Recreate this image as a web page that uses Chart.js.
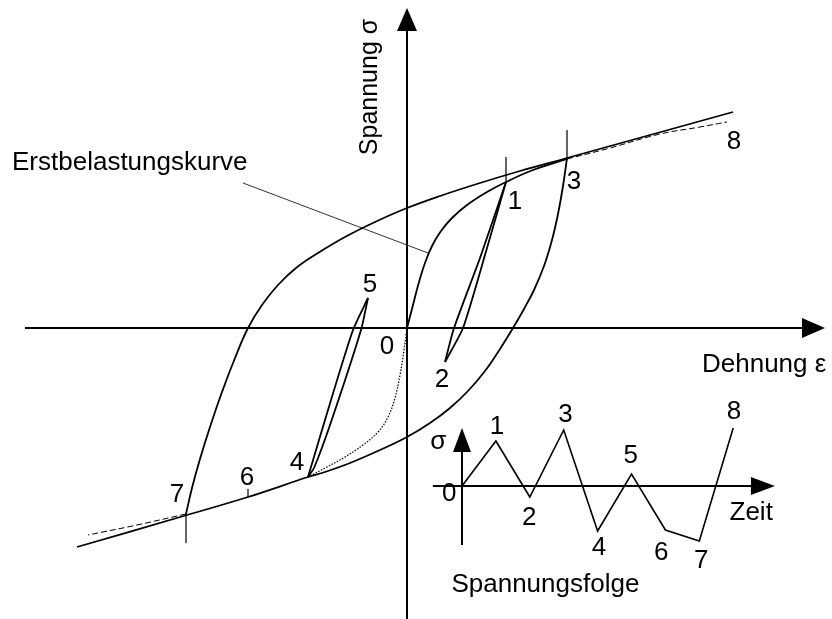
<!DOCTYPE html>
<html>
<head>
<meta charset="utf-8">
<title>Spannung-Dehnung</title>
<script src="https://cdn.jsdelivr.net/npm/chart.js@4.4.1/dist/chart.umd.min.js"></script>
<style>
    html, body { margin: 0; padding: 0; background: #fff; }
    #chart { display: block; }
</style>
</head>
<body>
<canvas id="chart" width="832" height="619"></canvas>
<script>
// Wertepaare [Dehnung, Spannung] in willkuerlichen Einheiten
const erstbelastung = [
    [0, 0], [0.06, 0.23], [0.12, 0.46], [0.18, 0.65], [0.25, 0.82], [0.34, 0.97],
    [0.45, 1.10], [0.60, 1.23], [0.80, 1.36], [0.99, 1.46], [1.26, 1.58], [1.60, 1.69]
];
const erstbelastungWeiter = [[1.60, 1.69], [2.03, 1.80], [2.53, 1.94], [2.93, 2.01], [3.20, 2.06]];
const erstbelastungDruck = [
    [0, 0], [-0.03, -0.22], [-0.07, -0.47], [-0.12, -0.70], [-0.19, -0.89], [-0.29, -1.04],
    [-0.44, -1.17], [-0.62, -1.29], [-0.80, -1.39], [-0.99, -1.49]
];
const erstbelastungDruckWeiter = [[-2.21, -1.86], [-2.70, -1.97], [-3.19, -2.07]];

// grosse Hystereseschleife 3 -> 4 -> 7 und 7 -> 8
const entlastung3 = [
    [1.60, 1.70], [1.56, 1.42], [1.51, 1.14], [1.45, 0.88], [1.37, 0.62], [1.27, 0.38],
    [1.17, 0.19], [1.06, 0], [0.93, -0.21], [0.78, -0.43], [0.61, -0.63], [0.43, -0.80],
    [0.23, -0.95], [0, -1.09], [-0.27, -1.22], [-0.57, -1.35], [-0.82, -1.44],
    [-0.99, -1.49], [-1.59, -1.69], [-2.20, -1.87], [-3.30, -2.19]
];
const belastung7 = [
    [-2.21, -1.86], [-2.15, -1.60], [-2.07, -1.31], [-1.97, -0.99], [-1.85, -0.64],
    [-1.72, -0.30], [-1.59, 0], [-1.45, 0.23], [-1.29, 0.43], [-1.11, 0.60], [-0.89, 0.75],
    [-0.62, 0.91], [-0.32, 1.06], [0, 1.20], [0.33, 1.32], [0.73, 1.45], [1.13, 1.57],
    [1.60, 1.70], [2.43, 1.93], [3.26, 2.16]
];

// kleine Schleifen 1-2 und 4-5
const schleife12ab = [[0.99, 1.46], [0.73, 0.70], [0.47, 0], [0.38, -0.34]];
const schleife12auf = [[0.38, -0.34], [0.56, 0], [0.78, 0.73], [0.99, 1.46]];
const schleife45ab = [[-0.39, 0.30], [-0.54, -0.02], [-0.76, -0.72], [-0.99, -1.49]];
const schleife45auf = [[-0.99, -1.49], [-0.93, -1.40], [-0.77, -0.97], [-0.46, -0.02], [-0.39, 0.30]];

// Markierungsstriche an den Umkehrpunkten [Dehnung, von, bis]
const markierungen = [[0.99, 1.71, 1.45], [1.60, 1.98, 1.68], [-1.59, -1.61, -1.69], [-2.21, -1.86, -2.15]];
const hinweisLinie = [[-1.64, 1.45], [0.21, 0.75]];

// Beschriftung der Umkehrpunkte
const punktNamen = ['0', '1', '2', '3', '4', '5', '6', '7', '8'];
const punktEps = [-0.20, 1.08, 0.35, 1.67, -1.10, -0.37, -1.60, -2.30, 3.27];
const punktSigma = [-0.19, 1.26, -0.52, 1.46, -1.35, 0.43, -1.50, -1.67, 1.86];

// Spannungsfolge ueber der Zeit
const folgeZeit = [0, 1, 2, 3, 4, 5, 6, 7, 8];
const folgeSpannung = [0, 4.5, -1.1, 5.6, -4.5, 1.2, -4.4, -5.5, 5.8];
const folgeLabelZeit = [-0.38, 1.03, 1.98, 3.05, 4.04, 4.98, 5.88, 7.06, 8.02];
const folgeLabelSpannung = [-0.8, 5.9, -3.2, 7.1, -6.2, 3.0, -6.7, -7.5, 7.4];

const FONT = '26px "Liberation Sans", Arial, sans-serif';

function curve(points, extra) {
    return Object.assign({
        data: points.map(p => ({ x: p[0], y: p[1] })),
        showLine: true,
        pointRadius: 0,
        borderColor: '#000',
        borderWidth: 1.8,
        tension: 0.4,
        fill: false
    }, extra);
}

const datasets = [
    curve(erstbelastung),
    curve(erstbelastungWeiter, { borderWidth: 1, borderDash: [6, 3] }),
    curve(erstbelastungDruck, { borderWidth: 1.2, borderDash: [1.5, 1.5] }),
    curve(erstbelastungDruckWeiter, { borderWidth: 1, borderDash: [6, 3] }),
    curve(entlastung3),
    curve(belastung7),
    curve(schleife12ab, { tension: 0.2 }),
    curve(schleife12auf, { tension: 0.2 }),
    curve(schleife45ab, { tension: 0.2 }),
    curve(schleife45auf, { tension: 0.2 }),
    curve(hinweisLinie, { borderWidth: 1, borderColor: '#333', tension: 0 })
];
markierungen.forEach(m => {
    datasets.push(curve([[m[0], m[1]], [m[0], m[2]]], { borderWidth: 1.2, tension: 0 }));
});
datasets.push(curve(folgeZeit.map((t, i) => [t, folgeSpannung[i]]), {
    tension: 0, borderWidth: 1.6, xAxisID: 'xt', yAxisID: 'yt'
}));

function arrowHead(ctx, x, y, dx, dy, len, half) {
    ctx.beginPath();
    ctx.moveTo(x, y);
    ctx.lineTo(x - dx * len - dy * half, y - dy * len + dx * half);
    ctx.lineTo(x - dx * len + dy * half, y - dy * len - dx * half);
    ctx.closePath();
    ctx.fill();
}

function axisPair(ctx, xs, ys, xFrom, xTo, yFrom, yTo, width, len, half) {
    const x0 = xs.getPixelForValue(0), y0 = ys.getPixelForValue(0);
    ctx.lineWidth = width;
    ctx.beginPath();
    ctx.moveTo(xs.getPixelForValue(xFrom), y0);
    ctx.lineTo(xs.getPixelForValue(xTo) - len + 2, y0);
    ctx.moveTo(x0, ys.getPixelForValue(yFrom));
    ctx.lineTo(x0, ys.getPixelForValue(yTo) + len - 2);
    ctx.stroke();
    arrowHead(ctx, xs.getPixelForValue(xTo), y0, 1, 0, len, half);
    arrowHead(ctx, x0, ys.getPixelForValue(yTo), 0, -1, len, half);
}

const beschriftung = {
    id: 'beschriftung',
    beforeDatasetsDraw(chart) {
        const { ctx, scales } = chart;
        ctx.save();
        ctx.strokeStyle = '#000';
        ctx.fillStyle = '#000';
        axisPair(ctx, scales.x, scales.y, -3.82, 4.18, -2.91, 3.20, 2, 23, 10);
        axisPair(ctx, scales.xt, scales.yt, -0.86, 9.23, -5.9, 5.8, 2, 24, 9);
        ctx.restore();
    },
    afterDatasetsDraw(chart) {
        const { ctx, scales } = chart;
        const { x, y, xt, yt } = scales;
        ctx.save();
        ctx.fillStyle = '#000';
        ctx.font = FONT;
        ctx.textAlign = 'center';
        ctx.textBaseline = 'middle';
        punktNamen.forEach((name, i) => {
            ctx.fillText(name, x.getPixelForValue(punktEps[i]), y.getPixelForValue(punktSigma[i]));
            ctx.fillText(name, xt.getPixelForValue(folgeLabelZeit[i]), yt.getPixelForValue(folgeLabelSpannung[i]));
        });
        ctx.fillText('σ', xt.getPixelForValue(-0.7), yt.getPixelForValue(4.4));
        ctx.fillText('Zeit', xt.getPixelForValue(8.53), yt.getPixelForValue(-2.7));
        ctx.fillText('Spannungsfolge', xt.getPixelForValue(2.46), yt.getPixelForValue(-9.9));

        ctx.textAlign = 'left';
        ctx.fillText('Erstbelastungskurve', x.getPixelForValue(-3.95), y.getPixelForValue(1.65));
        ctx.fillText('Dehnung ε', x.getPixelForValue(2.95), y.getPixelForValue(-0.37));

        ctx.translate(x.getPixelForValue(-0.37), y.getPixelForValue(2.41));
        ctx.rotate(-Math.PI / 2);
        ctx.textAlign = 'center';
        ctx.font = '25px "Liberation Sans", Arial, sans-serif';
        ctx.fillText('Spannung σ', 0, 0);
        ctx.restore();
    }
};

new Chart(document.getElementById('chart'), {
    type: 'scatter',
    data: { datasets: datasets },
    options: {
        responsive: false,
        animation: false,
        events: [],
        layout: { padding: 0 },
        plugins: {
            legend: { display: false },
            tooltip: { enabled: false }
        },
        scales: {
            x: { type: 'linear', display: false, min: -4.07, max: 4.25 },
            y: { type: 'linear', display: false, min: -2.91, max: 3.28 },
            xt: { type: 'linear', axis: 'x', display: false, min: -13.628, max: 10.914 },
            yt: { type: 'linear', axis: 'y', display: false, min: -13.3, max: 48.6 }
        }
    },
    plugins: [beschriftung]
});
</script>
</body>
</html>
